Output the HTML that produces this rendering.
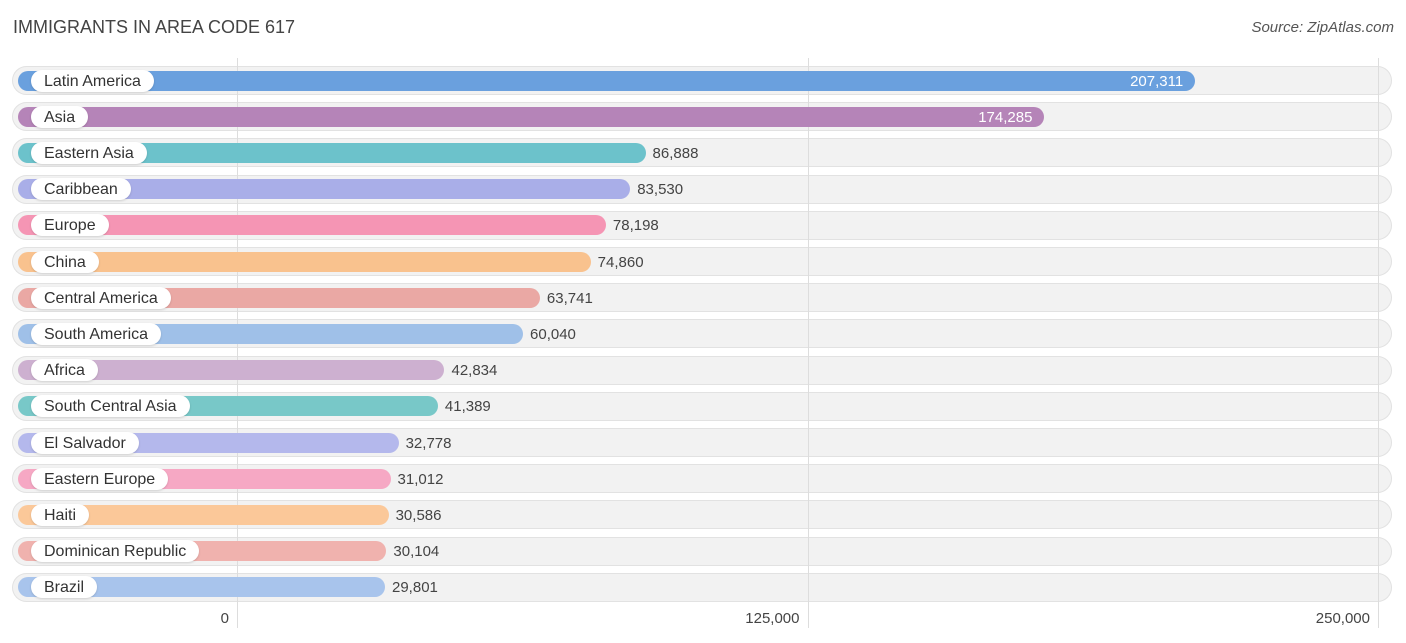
<!DOCTYPE html>
<html><head><meta charset="utf-8"><style>
body{margin:0;background:#fff;font-family:"Liberation Sans",sans-serif;}
#c{position:relative;width:1406px;height:643px;overflow:hidden;}
.title{position:absolute;left:13px;top:17px;font-size:18px;color:#444;}
.src{position:absolute;right:12px;top:19px;font-size:15px;color:#555;font-style:italic;}
.grid{position:absolute;top:58px;height:570px;width:1px;background:#ddd;z-index:1;}
.track{position:absolute;left:12px;width:1380px;height:29px;border-radius:15px;background:#f2f2f2;box-shadow:inset 0 0 0 1px #e2e2e2;}
.bar{position:absolute;left:18px;height:20px;border-radius:10px;z-index:2;}
.pill{position:absolute;left:31px;height:22px;border-radius:11px;background:#fff;font-size:16px;color:#333;line-height:24px;padding:0 13px;box-shadow:0 1px 2px rgba(0,0,0,.15);z-index:3;}
.val{position:absolute;font-size:15px;line-height:22px;z-index:3;}
.tick{position:absolute;top:610px;font-size:15px;color:#444;}
</style></head><body>
<div id="c">
<div class="title">IMMIGRANTS IN AREA CODE 617</div>
<div class="src">Source: ZipAtlas.com</div>
</div>
<script>
const categories=["Latin America","Asia","Eastern Asia","Caribbean","Europe","China","Central America","South America","Africa","South Central Asia","El Salvador","Eastern Europe","Haiti","Dominican Republic","Brazil"];
const values=[207311,174285,86888,83530,78198,74860,63741,60040,42834,41389,32778,31012,30586,30104,29801];
const colors=["#6aa0de","#b584b8","#6cc2cb","#a9aee8","#f595b4","#f9c28e","#eaa8a4","#9fc0e8","#cdb0d0","#78c8c8","#b4b8ec","#f6a8c4","#fbc899","#f0b2ae","#a8c4ec"];
const ticks=[0,125000,250000];
const tickLabels=["0","125,000","250,000"];
const c=document.getElementById('c');
const x=v=>237+v*(1378-237)/250000;
ticks.forEach((t,i)=>{
 const g=document.createElement('div');g.className='grid';g.style.left=x(t)+'px';
 
 
 c.appendChild(g);
});
categories.forEach((cat,i)=>{
 const cy=80.5+i*36.2;
 const tr=document.createElement('div');tr.className='track';tr.style.top=(cy-14.5)+'px';
 
 
 c.appendChild(tr);
 const end=x(values[i])+12;
 const b=document.createElement('div');b.className='bar';b.style.top=(cy-10)+'px';b.style.width=(end-18)+'px';b.style.background=colors[i];
 
 
 c.appendChild(b);
 const p=document.createElement('div');p.className='pill';p.style.top=(cy-11)+'px';p.textContent=cat;
 
 
 c.appendChild(p);
 const v=document.createElement('div');v.className='val';v.style.top=(cy-10)+'px';v.textContent=values[i].toLocaleString('en-US');
 
 
 if(i<2){v.style.right=(1406-end+12)+'px';v.style.color='#fff';}else{v.style.left=(end+7)+'px';v.style.color='#444';}
 c.appendChild(v);
});
ticks.forEach((t,i)=>{
 const l=document.createElement('div');l.className='tick';l.textContent=tickLabels[i];
 l.style.right=(1406-x(t)+8)+'px';
 
 
 c.appendChild(l);
});
</script>
</body></html>
